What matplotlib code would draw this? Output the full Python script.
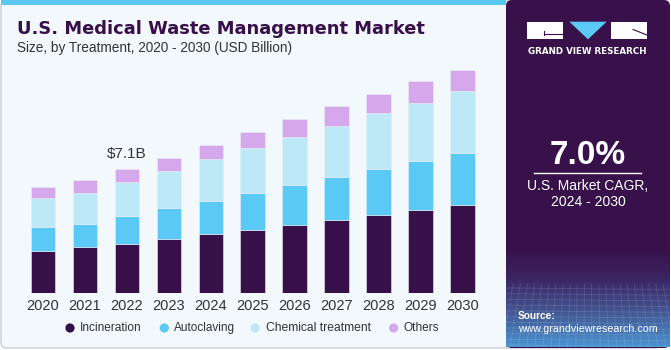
import numpy as np
import matplotlib
matplotlib.use("Agg")
import matplotlib.pyplot as plt
from matplotlib.patches import Rectangle, Polygon, FancyBboxPatch, Circle
from matplotlib.colors import LinearSegmentedColormap

years = ["2020", "2021", "2022", "2023", "2024", "2025", "2026", "2027", "2028", "2029", "2030"]
incineration = [2.43, 2.62, 2.83, 3.09, 3.40, 3.63, 3.91, 4.16, 4.48, 4.76, 5.01]
autoclaving = [1.37, 1.35, 1.59, 1.78, 1.88, 2.11, 2.26, 2.49, 2.60, 2.77, 2.98]
chemical = [1.65, 1.75, 1.90, 2.11, 2.37, 2.54, 2.73, 2.90, 3.21, 3.32, 3.53]
others = [0.63, 0.74, 0.78, 0.74, 0.80, 0.91, 1.03, 1.10, 1.08, 1.23, 1.21]
series_names = ["Incineration", "Autoclaving", "Chemical treatment", "Others"]
colors = ["#37104a", "#5bc9f5", "#bde8f8", "#d4a8ea"]

SANS = "Liberation Sans"
W, H = 671, 350
fig = plt.figure(figsize=(W / 100, H / 100), dpi=100)
fig.patch.set_facecolor("white")
renderer = fig.canvas.get_renderer()

def fx(px):
    return px / W

def fy(py):
    return 1 - py / H

bg = fig.add_axes([0, 0, 1, 1])
bg.set_xlim(0, W)
bg.set_ylim(H, 0)
bg.axis("off")

def fit_text(t, target_w):
    bb = t.get_window_extent(renderer=renderer)
    t.set_fontsize(t.get_fontsize() * target_w / bb.width)

# left panel
bg.add_patch(FancyBboxPatch((1, 1), 660, 347, boxstyle="round,pad=0,rounding_size=6",
                            facecolor="#f3f8fc", edgecolor="#c8cdd2", lw=1.0, zorder=0))
bg.add_patch(Rectangle((1, 0), 505, 4.5, facecolor="#5bc8f0", edgecolor="none", zorder=1))

# right panel
bg.add_patch(FancyBboxPatch((506, 0), 164, 348, boxstyle="round,pad=0,rounding_size=6",
                            facecolor="#38114a", edgecolor="none", zorder=2))
grad = np.linspace(0, 1, 200)[:, None]
cmap = LinearSegmentedColormap.from_list("g", [(0, "#38114a"), (0.3, "#3b2462"),
                                               (0.6, "#424f8c"), (1.0, "#4a92d0")])
bg.imshow(grad, extent=(506, 670, 347, 248), origin="upper", cmap=cmap, aspect="auto",
          zorder=3, interpolation="bilinear")
for yy in np.linspace(288, 345, 11):
    bg.plot([506, 670], [yy, yy + 1.5], color="white", alpha=0.12, lw=0.6, zorder=4)
for xx in np.linspace(506, 670, 24):
    bg.plot([xx, xx + (xx - 588) * 0.15], [284, 347], color="white", alpha=0.12, lw=0.6, zorder=4)

# logo
bg.add_patch(Rectangle((527, 21.7), 36, 17.6, facecolor="white", edgecolor="none", zorder=5))
bg.plot([543.5, 563], [33.5, 33.5], color="#38114a", lw=0.8, zorder=6)
bg.plot([543.5, 543.5], [30.5, 35], color="#38114a", lw=0.8, zorder=6)
bg.add_patch(Polygon([(569.3, 21.7), (606.7, 21.7), (588, 39.3)], closed=True,
                     facecolor="#5bc8f5", edgecolor="none", zorder=5))
bg.add_patch(Rectangle((611, 21.7), 36.3, 17.6, facecolor="white", edgecolor="none", zorder=5))
bg.plot([633, 647], [29.5, 35], color="#38114a", lw=0.8, zorder=6)
t = bg.text(587, 51.5, "GRAND VIEW RESEARCH", color="white", fontsize=6.6, fontweight="bold",
            ha="center", va="center", family="DejaVu Sans", zorder=6)
fit_text(t, 120)

# CAGR
bg.text(588, 155, "7.0%", color="white", fontsize=24, fontweight="bold", ha="center",
        va="center", family=SANS, zorder=6)
bg.plot([534, 641], [173.3, 173.3], color="white", lw=1.0, zorder=6)
bg.text(588, 185.5, "U.S. Market CAGR,", color="white", fontsize=10, ha="center",
        va="center", family=SANS, zorder=6)
bg.text(588, 201.5, "2024 - 2030", color="white", fontsize=10, ha="center",
        va="center", family=SANS, zorder=6)
t = bg.text(518, 316, "Source:", color="white", fontsize=9, fontweight="bold", ha="left",
            va="center", family=SANS, zorder=6)
fit_text(t, 38)
t = bg.text(518, 329.5, "www.grandviewresearch.com", color="white", fontsize=9, ha="left",
            va="center", family=SANS, zorder=6)
fit_text(t, 139)

# titles
t = bg.text(17, 29.5, "U.S. Medical Waste Management Market", color="#37104a", fontsize=15,
            fontweight="bold", ha="left", va="center", family="DejaVu Sans", zorder=6)
fit_text(t, 410)
t = bg.text(17, 48, "Size, by Treatment, 2020 - 2030 (USD Billion)", color="#333333", fontsize=10,
            ha="left", va="center", family=SANS, zorder=6)
fit_text(t, 278)

# bar axes
spacing = 41.97
left_px = 42.8 - 0.7 * spacing
right_px = 462.5 + 0.7 * spacing
base_px = 293.3
top_px = base_px - 13 * 17.56
ax = fig.add_axes([fx(left_px), fy(base_px), fx(right_px - left_px), (base_px - top_px) / H])
ax.set_xlim(-0.7, 10.7)
ax.set_ylim(0, 13)
ax.patch.set_alpha(0)
for s in ax.spines.values():
    s.set_visible(False)
ax.set_yticks([])
x = np.arange(len(years))
bottom = np.zeros(len(years))
for vals, c, name in zip([incineration, autoclaving, chemical, others], colors, series_names):
    ax.bar(x, vals, bottom=bottom, width=0.58, color=c, edgecolor="#e8eef5", linewidth=0.4,
           label=name, zorder=3)
    bottom += np.array(vals)
ax.set_xticks(x)
ax.set_xticklabels(years, fontsize=10.5, color="#333333", family=SANS)
ax.tick_params(axis="x", length=0, pad=4)
ax.text(2, bottom[2] + 0.45, "$7.1B", ha="center", va="bottom", fontsize=11,
        color="#333333", family=SANS)

# legend
leg_items = [(70, 80, 62), (164.3, 174, 61), (255, 266, 106), (393.7, 404, 36)]
for (mx, tx, tw), c, name in zip(leg_items, colors, series_names):
    bg.add_patch(Circle((mx, 328), 4.6, facecolor=c, edgecolor="none", zorder=6))
    t = bg.text(tx, 328, name, fontsize=9.5, color="#333333", ha="left", va="center",
                family=SANS, zorder=6)
    fit_text(t, tw)

fig.savefig("out.png", dpi=100, facecolor=fig.get_facecolor())
